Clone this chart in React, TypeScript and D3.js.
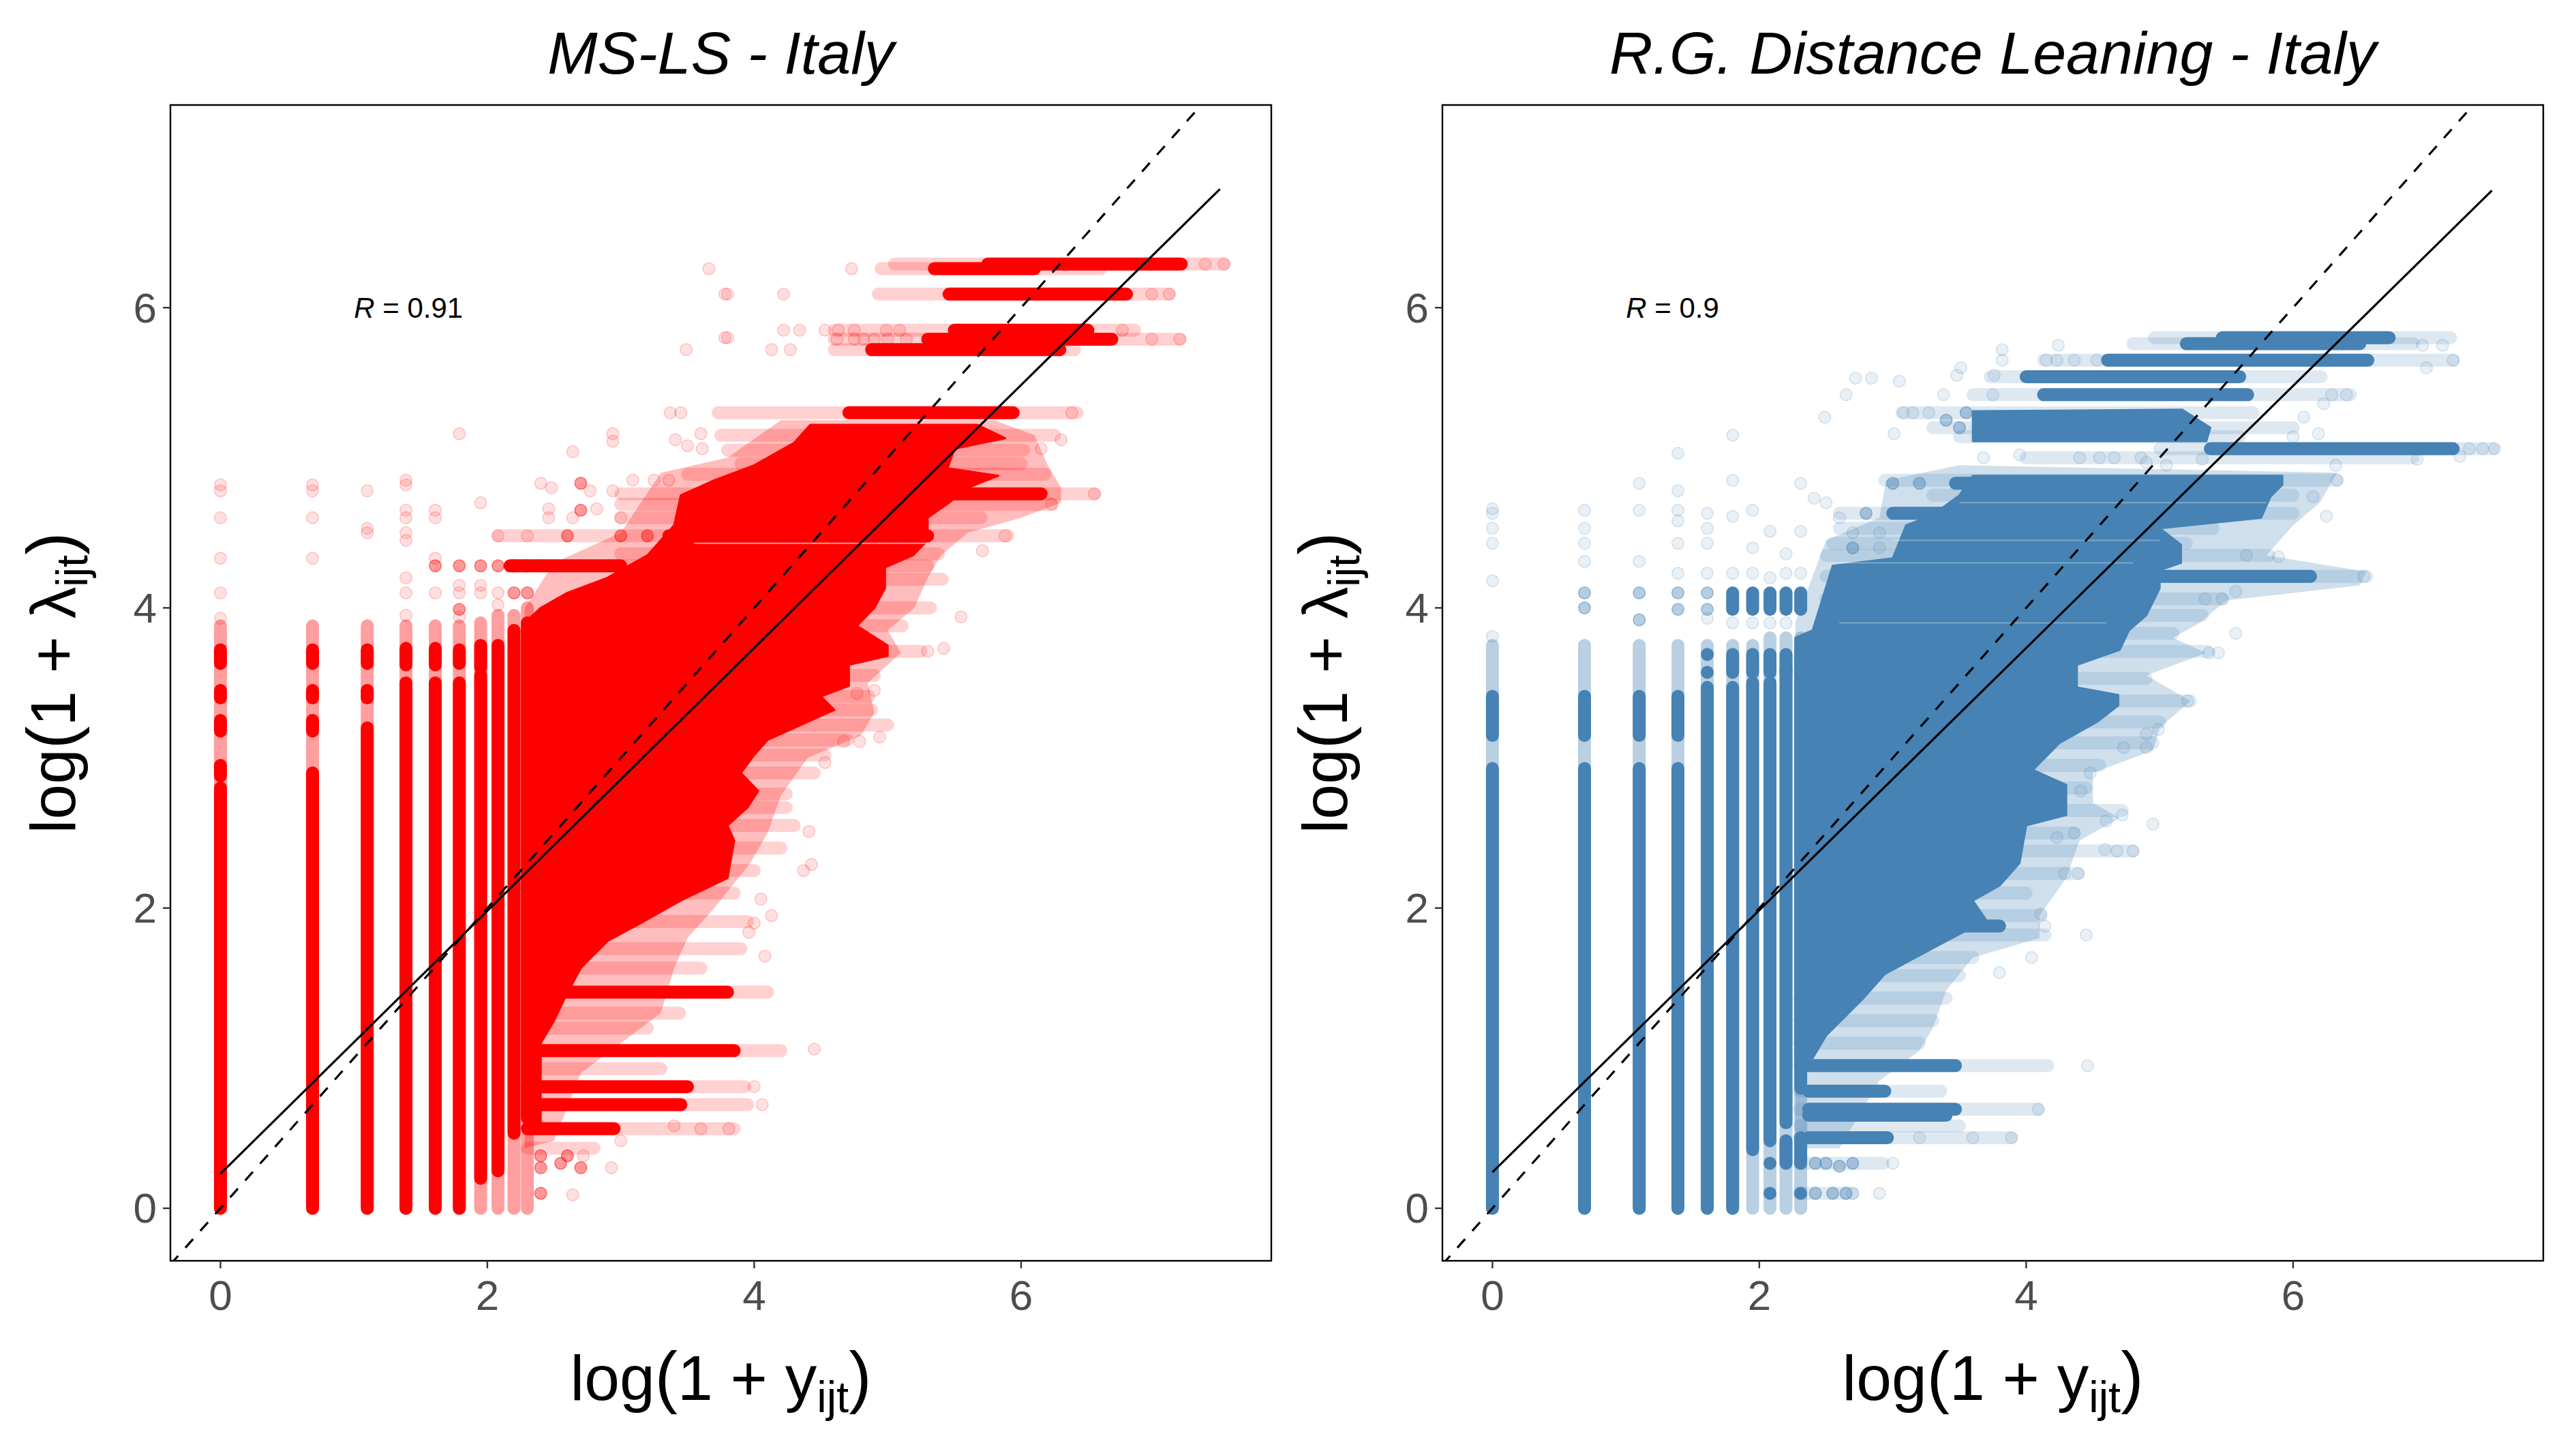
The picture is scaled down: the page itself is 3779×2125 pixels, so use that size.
import React from 'react';
import * as d3 from 'd3';

type Pt = [number, number];
type Seg = [number, number, number]; // [level, from, to]

const W = 3779;
const H = 2125;

const xTicks = [0, 2, 4, 6];
const yTicks = [0, 2, 4, 6];
const xDomain: [number, number] = [-0.375, 7.875];
const yDomain: [number, number] = [-0.35, 7.35];
const fitX = [0, 7.49];

// ---------- MS-LS panel ----------
const msColX = [0, 0.69, 1.1, 1.39, 1.61, 1.79, 1.95, 2.08, 2.2, 2.3];
const msColLo = [0, 0, 0, 0, 0, 0, 0.2, 0.25, 0.5, 0.6];
const msColHi = [2.8, 2.9, 3.2, 3.5, 3.5, 3.5, 3.55, 3.75, 3.85, 3.9];
const msColSemiHi = [3.88, 3.88, 3.88, 3.88, 3.88, 3.88, 3.9, 3.95, 3.95, 4.0];
const msColBlobs: Seg[] = [
  [0, 2.88, 2.95], [0, 3.18, 3.25], [0, 3.4, 3.45], [0, 3.63, 3.72],
  [0.69, 3.18, 3.25], [0.69, 3.4, 3.45], [0.69, 3.63, 3.72],
  [1.1, 3.4, 3.45], [1.1, 3.63, 3.72],
  [1.39, 3.62, 3.73], [1.61, 3.62, 3.73], [1.79, 3.63, 3.72], [1.95, 3.6, 3.75],
  [2.2, 4.28, 4.28], [2.3, 4.28, 4.28],
];
const msBars: Seg[] = [
  [6.29, 5.75, 7.2], [6.26, 5.35, 6.1], [6.09, 5.46, 6.79], [5.85, 5.5, 6.5],
  [5.79, 5.3, 6.68], [5.72, 4.88, 6.29], [5.3, 4.71, 5.94], [4.76, 5.4, 6.15],
  [4.28, 2.17, 3.0], [4.48, 3.36, 5.3], [1.44, 2.3, 3.8], [1.05, 2.3, 3.85],
  [0.81, 2.3, 3.5], [0.69, 2.3, 3.45], [0.53, 2.3, 2.95],
];
const msFringe: Seg[] = [
  [6.29, 5.05, 7.52], [6.26, 4.95, 6.6], [6.09, 4.93, 7.11], [5.85, 4.6, 6.85],
  [5.79, 4.6, 7.19], [5.72, 4.6, 6.4], [5.3, 3.73, 6.42], [5.15, 3.75, 6.25],
  [5.05, 3.8, 6.02], [4.96, 3.9, 6.0], [4.89, 3.5, 6.18], [4.76, 3.0, 6.55],
  [4.69, 3.0, 6.23], [4.6, 3.0, 5.7], [4.48, 2.08, 5.9], [4.36, 3.0, 5.38],
  [4.28, 2.17, 5.3], [4.19, 3.0, 5.41], [4.0, 3.0, 5.32], [3.88, 3.0, 5.11],
  [3.71, 3.0, 5.25], [3.55, 3.0, 4.9], [3.41, 3.0, 4.86], [3.32, 3.0, 4.88],
  [3.22, 3.0, 5.0], [3.12, 3.0, 4.7], [3.02, 3.0, 4.53], [2.9, 3.0, 4.45],
  [2.76, 3.0, 4.24], [2.67, 3.0, 4.24], [2.55, 3.0, 4.3], [2.4, 3.0, 4.2],
  [2.25, 3.0, 4.0], [2.1, 3.0, 3.85], [1.91, 3.0, 3.95], [1.73, 2.6, 3.9],
  [1.6, 2.5, 3.6], [1.44, 2.3, 4.1], [1.3, 2.3, 3.44], [1.2, 2.3, 3.2],
  [1.05, 2.3, 4.2], [0.93, 2.3, 3.3], [0.81, 2.3, 3.93], [0.69, 2.3, 3.95],
  [0.53, 2.3, 3.85], [0.4, 2.3, 2.8],
];
const msBody: Pt[] = [
  [2.28, 0.55], [2.28, 3.9], [2.4, 4.0], [2.6, 4.1], [2.9, 4.2], [3.2, 4.35],
  [3.4, 4.55], [3.45, 4.75], [3.7, 4.85], [4.0, 4.95], [4.3, 5.1], [4.42, 5.22],
  [5.67, 5.22], [5.88, 5.13], [5.5, 5.06], [5.45, 4.93], [5.83, 4.88], [5.6, 4.8],
  [5.46, 4.7], [5.3, 4.6], [5.3, 4.45], [5.19, 4.35], [4.98, 4.27],
  [4.98, 4.13], [4.9, 4.0], [4.77, 3.88], [5.0, 3.75], [5.0, 3.68], [4.71, 3.62],
  [4.71, 3.48], [4.5, 3.41], [4.6, 3.32], [4.35, 3.22], [4.1, 3.12], [4.0, 3.02],
  [3.9, 2.9], [4.03, 2.78], [3.95, 2.67], [3.8, 2.55], [3.85, 2.45], [3.8, 2.2],
  [3.45, 2.05], [3.15, 1.9], [2.9, 1.78], [2.7, 1.6], [2.58, 1.4], [2.5, 1.25],
  [2.4, 1.1], [2.4, 0.55],
];
const msHalo: Pt[] = [
  [2.28, 0.4], [2.28, 4.0], [2.5, 4.3], [3.0, 4.5], [3.3, 4.9], [3.8, 5.0],
  [4.2, 5.25], [5.8, 5.25], [6.1, 5.15], [6.2, 4.95], [6.3, 4.8], [6.3, 4.7],
  [6.0, 4.6], [5.6, 4.5], [5.4, 4.35], [5.3, 4.2], [5.2, 4.0], [5.0, 3.85],
  [5.1, 3.7], [4.85, 3.5], [4.9, 3.3], [4.8, 3.15], [4.4, 3.0], [4.2, 2.75],
  [4.1, 2.5], [3.97, 2.3], [3.7, 2.0], [3.5, 1.8], [3.4, 1.6], [3.3, 1.3],
  [3.0, 1.1], [2.7, 0.9], [2.5, 0.45],
];
const msSemi: Pt[] = [
  [1.61, 4.28], [1.79, 4.28], [1.79, 3.99], [1.95, 4.28], [2.08, 4.28],
  [2.2, 4.1], [2.3, 4.1], [2.7, 4.83], [2.7, 4.65], [2.4, 4.28],
  [2.6, 4.48], [3.0, 4.48], [3.2, 4.48], [2.4, 0.35], [2.4, 0.27], [2.4, 0.1],
  [2.55, 0.3], [2.6, 0.35], [2.7, 0.27],
];
const msFaint: Pt[] = [
  [0, 4.82], [0, 4.78], [0, 4.6], [0, 4.33], [0, 4.1], [0, 3.93],
  [0.69, 4.82], [0.69, 4.78], [0.69, 4.6], [0.69, 4.33],
  [1.1, 4.78], [1.1, 4.53], [1.1, 4.5],
  [1.39, 4.85], [1.39, 4.82], [1.39, 4.65], [1.39, 4.6], [1.39, 4.5], [1.39, 4.45],
  [1.39, 4.2], [1.39, 4.1], [1.39, 3.95],
  [1.61, 4.65], [1.61, 4.6], [1.61, 4.33], [1.61, 4.1],
  [1.79, 5.16], [1.79, 4.15], [1.79, 4.1], [1.79, 3.94],
  [1.95, 4.7], [1.95, 4.15], [1.95, 4.1],
  [2.08, 4.48], [2.08, 4.1], [2.08, 4.02], [2.3, 4.48],
  [2.4, 4.83], [2.48, 4.8], [2.64, 5.04], [2.94, 5.16], [2.94, 5.11], [3.37, 5.3],
  [3.49, 5.72], [3.66, 6.26], [3.78, 6.09], [3.78, 5.8], [3.41, 5.12], [3.5, 5.08],
  [3.61, 5.06], [3.45, 5.3], [3.6, 5.16], [2.64, 4.6], [2.77, 4.78], [2.94, 4.78],
  [3.0, 4.6], [2.82, 4.66], [3.09, 4.85], [3.25, 4.85], [3.36, 4.85], [2.46, 4.66],
  [2.46, 4.6], [4.73, 6.26], [3.8, 6.09], [4.22, 6.09], [3.8, 5.8], [4.13, 5.72],
  [4.27, 5.72], [4.22, 5.85], [4.34, 5.85], [4.53, 5.85], [4.63, 5.85], [4.75, 5.85],
  [4.99, 5.85], [5.09, 5.85], [4.62, 5.79], [4.75, 5.79], [4.82, 5.79], [4.9, 5.79],
  [5.0, 5.79], [5.14, 5.79], [7.52, 6.29], [7.38, 6.29], [7.11, 6.09], [6.98, 6.09],
  [7.19, 5.79], [6.98, 5.79], [6.76, 5.85], [6.38, 5.3], [6.3, 5.12], [6.15, 5.06],
  [6.55, 4.76], [6.23, 4.69], [5.88, 4.48], [5.71, 4.38], [5.55, 3.94], [5.42, 3.73],
  [5.3, 3.71], [4.77, 3.43], [4.41, 2.51], [4.43, 2.29], [4.37, 2.25], [4.05, 2.06],
  [4.13, 1.95], [4.0, 1.9], [3.96, 1.84], [4.08, 1.68], [4.45, 1.06], [4.0, 0.81],
  [4.06, 0.69], [3.81, 0.53], [4.67, 3.11], [4.9, 3.45], [4.94, 3.14], [4.79, 3.11],
  [4.53, 2.97], [2.64, 0.09], [2.93, 0.27], [2.72, 0.35], [3.0, 0.45], [3.4, 0.55],
  [3.6, 0.53],
];
const msGaps: Seg[] = [[4.43, 3.55, 5.3]];
const msFitY = [0.23, 6.79];

// ---------- R.G. Distance Leaning panel ----------
const dpColX = [0, 0.69, 1.1, 1.39, 1.61, 1.8, 1.95, 2.08, 2.2, 2.31];
const dpColLo = [0, 0, 0, 0, 0, 0, 0.39, 0.45, 0.57, 0.8];
const dpColHi = [2.93, 2.93, 2.93, 2.93, 3.47, 3.47, 3.5, 3.5, 3.6, 3.7];
const dpColSemiHi = [3.75, 3.75, 3.75, 3.75, 3.75, 3.75, 3.75, 3.8, 3.8, 3.8];
const dpColBlobs: Seg[] = [
  [0, 3.15, 3.41], [0.69, 3.15, 3.41], [1.1, 3.15, 3.41], [1.39, 3.15, 3.41],
  [1.61, 3.57, 3.57], [1.61, 3.69, 3.69], [1.8, 3.57, 3.69], [1.95, 3.57, 3.69],
  [2.08, 3.57, 3.69], [2.2, 3.57, 3.69], [2.31, 3.57, 3.69],
  [1.8, 3.99, 4.1], [1.95, 3.99, 4.1], [2.08, 3.99, 4.1], [2.2, 3.99, 4.1], [2.31, 3.99, 4.1],
  [2.08, 0.3, 0.3], [2.08, 0.1, 0.1], [2.2, 0.3, 0.45], [2.31, 0.3, 0.47], [2.31, 0.1, 0.1],
];
const dpBars: Seg[] = [
  [5.8, 5.47, 6.72], [5.76, 5.2, 6.5], [5.65, 4.61, 6.56], [5.54, 4.0, 5.6],
  [5.42, 4.13, 5.66], [5.06, 5.38, 7.2], [4.83, 3.47, 3.6], [4.63, 3.0, 3.5],
  [0.95, 2.37, 3.47], [0.78, 2.37, 2.94], [0.66, 2.37, 3.47], [0.62, 2.37, 3.4],
  [0.47, 2.37, 2.96], [1.88, 3.3, 3.8], [4.21, 5.0, 6.13],
];
const dpFringe: Seg[] = [
  [5.8, 4.96, 7.18], [5.76, 4.8, 6.9], [5.65, 4.13, 7.2], [5.54, 3.73, 6.21],
  [5.42, 3.6, 6.43], [5.3, 3.07, 5.7], [5.2, 3.3, 6.0], [5.14, 3.5, 5.6],
  [5.06, 5.0, 7.5], [5.0, 4.0, 6.9], [4.85, 2.94, 6.33], [4.75, 3.3, 6.0],
  [4.63, 2.6, 6.0], [4.53, 2.6, 5.4], [4.43, 2.55, 5.2], [4.35, 2.5, 5.82],
  [4.21, 2.5, 6.55], [4.06, 2.5, 5.47], [3.95, 2.5, 5.32], [3.83, 2.5, 5.1],
  [3.71, 2.5, 5.36], [3.53, 2.5, 4.9], [3.38, 2.5, 5.23], [3.24, 2.5, 5.0],
  [3.1, 2.5, 4.95], [2.95, 2.5, 4.55], [2.8, 2.5, 4.45], [2.65, 2.5, 4.72],
  [2.5, 2.5, 4.36], [2.38, 2.5, 4.8], [2.23, 2.5, 4.39], [2.1, 2.5, 4.0],
  [1.95, 2.5, 4.11], [1.82, 2.5, 4.14], [1.67, 2.5, 3.6], [1.55, 2.5, 3.5],
  [1.4, 2.3, 3.4], [1.25, 2.3, 3.3], [1.1, 2.3, 3.2], [0.95, 2.3, 4.16],
  [0.78, 2.3, 3.36], [0.66, 2.3, 4.09], [0.55, 2.3, 3.5], [0.47, 2.3, 3.89],
  [0.3, 2.3, 2.93], [0.1, 2.3, 2.7],
];
const dpBody: Pt[] = [
  [2.27, 1.0], [2.27, 3.8], [2.4, 3.85], [2.55, 4.28], [3.0, 4.33], [3.1, 4.55],
  [3.3, 4.62], [3.5, 4.75], [3.6, 4.88], [5.92, 4.88], [5.92, 4.82], [5.83, 4.74],
  [5.76, 4.6], [5.0, 4.53], [5.16, 4.42], [5.16, 4.3], [5.0, 4.25], [5.0, 4.13],
  [4.9, 3.95], [4.77, 3.85], [4.7, 3.72], [4.38, 3.62], [4.38, 3.47], [4.69, 3.42],
  [4.69, 3.35], [4.53, 3.24], [4.25, 3.1], [4.05, 2.92], [4.3, 2.82], [4.3, 2.62],
  [4.0, 2.55], [3.95, 2.3], [3.8, 2.15], [3.6, 2.05], [3.7, 1.92], [3.4, 1.78],
  [2.94, 1.56], [2.77, 1.39], [2.5, 1.15], [2.4, 1.0],
];
const dpBlock: Pt[] = [[3.6, 5.11], [3.6, 5.31], [5.17, 5.32], [5.38, 5.2], [5.35, 5.11]];
const dpHalo: Pt[] = [
  [2.27, 0.4], [2.27, 3.9], [2.5, 4.45], [2.9, 4.6], [2.95, 4.85], [3.5, 4.95],
  [6.33, 4.9], [6.2, 4.7], [6.0, 4.55], [5.8, 4.35], [6.55, 4.24], [6.5, 4.15],
  [5.5, 4.05], [5.3, 3.9], [5.1, 3.8], [5.35, 3.7], [4.9, 3.55], [5.23, 3.38],
  [5.0, 3.2], [4.95, 3.05], [4.5, 2.9], [4.5, 2.7], [4.7, 2.6], [4.4, 2.45],
  [4.3, 2.2], [4.1, 1.95], [4.1, 1.8], [3.6, 1.67], [3.4, 1.45], [3.3, 1.2],
  [3.2, 1.05], [2.9, 0.85], [2.6, 0.4],
];
const dpSemi: Pt[] = [
  [2.42, 0.3], [2.5, 0.3], [2.6, 0.28], [2.42, 0.1], [2.55, 0.1], [2.65, 0.1],
  [2.7, 0.3], [3.0, 4.83], [3.2, 4.83], [2.8, 4.63], [2.7, 4.4], [3.4, 5.25],
  [3.5, 5.2], [3.55, 5.3], [0.69, 4.1], [0.69, 4.0], [1.1, 4.1], [1.1, 3.92],
  [1.39, 4.1], [1.39, 3.99], [1.61, 4.1], [1.61, 3.99],
];
const dpFaint: Pt[] = [
  [0, 4.66], [0, 4.63], [0, 4.53], [0, 4.43], [0, 4.18], [0, 3.81],
  [0.69, 4.65], [0.69, 4.53], [0.69, 4.43], [0.69, 4.31],
  [1.1, 4.83], [1.1, 4.65], [1.1, 4.31],
  [1.39, 5.03], [1.39, 4.78], [1.39, 4.65], [1.39, 4.58], [1.39, 4.43], [1.39, 4.23],
  [1.61, 4.63], [1.61, 4.53], [1.61, 4.43], [1.61, 4.23], [1.61, 3.93],
  [1.8, 5.15], [1.8, 4.85], [1.8, 4.61], [1.8, 4.23], [1.8, 3.9],
  [1.95, 4.65], [1.95, 4.4], [1.95, 4.23], [1.95, 3.9],
  [2.08, 4.51], [2.08, 4.2], [2.08, 3.9], [2.2, 4.36], [2.2, 4.23], [2.2, 3.9],
  [2.31, 4.83], [2.31, 4.51], [2.31, 4.23],
  [2.41, 4.73], [2.49, 5.27], [2.65, 5.42], [2.72, 5.53], [2.84, 5.53], [3.05, 5.51],
  [3.01, 5.16], [3.38, 5.42], [3.48, 5.55], [3.51, 5.6], [3.08, 5.3], [3.15, 5.3],
  [3.27, 5.3], [3.68, 5.0], [3.75, 5.42], [3.76, 5.55], [2.5, 4.7], [2.6, 4.6],
  [2.7, 4.5], [2.9, 4.5], [2.9, 4.4], [3.82, 5.72], [3.82, 5.65], [4.24, 5.75],
  [4.15, 5.65], [4.23, 5.65], [4.36, 5.65], [4.53, 5.65], [7.12, 5.75], [7.2, 5.65],
  [7.0, 5.6], [6.97, 5.75], [7.32, 5.06], [7.42, 5.06], [7.51, 5.06], [7.25, 5.01],
  [6.4, 5.42], [6.29, 5.42], [6.23, 5.36], [6.08, 5.27], [6.19, 5.16], [6.0, 5.14],
  [6.32, 4.95], [6.93, 4.99], [6.25, 4.61], [6.15, 4.74], [6.33, 4.85], [6.53, 4.21],
  [5.57, 3.83], [5.37, 3.7], [5.44, 3.7], [5.34, 4.06], [5.47, 4.06], [5.57, 4.11],
  [5.89, 4.34], [5.65, 4.35], [5.32, 4.99], [5.05, 4.95], [4.86, 5.0], [4.9, 4.97],
  [4.4, 5.0], [4.55, 5.0], [4.66, 5.0], [3.95, 5.02], [5.21, 3.38], [4.99, 3.19],
  [4.9, 3.07], [4.95, 2.56], [4.8, 2.38], [4.68, 2.38], [4.59, 2.39], [4.39, 2.23],
  [4.29, 2.23], [4.45, 1.82], [4.14, 1.88], [4.11, 1.96], [4.04, 1.67], [3.8, 1.57],
  [4.46, 0.95], [4.09, 0.66], [3.89, 0.47], [4.36, 2.5], [4.23, 2.47], [4.72, 2.62],
  [4.6, 2.58], [4.48, 2.9], [4.41, 2.78], [4.9, 3.16], [4.73, 3.07], [3.0, 0.3],
  [2.7, 0.1], [2.9, 0.1], [3.2, 0.47], [3.6, 0.47],
];
const dpGaps: Seg[] = [[4.7, 3.5, 5.8], [4.45, 3.0, 5.0], [4.3, 2.6, 4.8], [3.9, 2.6, 4.6]];
const dpFitY = [0.24, 6.78];

interface PanelProps {
  left: number;
  title: string;
  label: string;
  color: string;
  colX: number[];
  colLo: number[];
  colHi: number[];
  colSemiHi: number[];
  colBlobs: Seg[];
  bars: Seg[];
  fringe: Seg[];
  body: Pt[];
  halo: Pt[];
  block?: Pt[];
  semi: Pt[];
  faint: Pt[];
  gaps: Seg[];
  gapOpacity: number;
  fitY: number[];
}

const TOP = 154;
const BOTTOM = 1849;
const PW = 1615;
const R = 9.5;
const FONT = '"Liberation Sans", Arial, Helvetica, sans-serif';

const Panel: React.FC<PanelProps> = (p) => {
  const x = d3.scaleLinear().domain(xDomain).range([p.left, p.left + PW]);
  const y = d3.scaleLinear().domain(yDomain).range([BOTTOM, TOP]);
  const poly = d3.line<Pt>().x(d => x(d[0])).y(d => y(d[1])).curve(d3.curveLinearClosed);
  const clipId = `clip-${Math.round(p.left)}`;
  const cx = p.left + PW / 2;

  return (
    <g>
      <defs>
        <clipPath id={clipId}>
          <rect x={p.left} y={TOP} width={PW} height={BOTTOM - TOP} />
        </clipPath>
      </defs>
      <g clipPath={`url(#${clipId})`}>
        {p.fringe.map((s, i) => (
          <line key={`f${i}`} x1={x(s[1])} x2={x(s[2])} y1={y(s[0])} y2={y(s[0])}
            stroke={p.color} strokeOpacity={0.18} strokeWidth={2 * R} strokeLinecap="round" />
        ))}
        <path d={poly(p.halo) || undefined} fill={p.color} fillOpacity={0.26} />
        {p.faint.map((d, i) => (
          <circle key={`d${i}`} cx={x(d[0])} cy={y(d[1])} r={R - 0.75} fill={p.color}
            fillOpacity={0.12} stroke={p.color} strokeOpacity={0.2} strokeWidth={1.5} />
        ))}
        {p.colX.map((cxv, i) => (
          <line key={`cs${i}`} x1={x(cxv)} x2={x(cxv)} y1={y(0)} y2={y(p.colSemiHi[i])}
            stroke={p.color} strokeOpacity={0.38} strokeWidth={2 * R} strokeLinecap="round" />
        ))}
        <path d={poly(p.body) || undefined} fill={p.color} stroke={p.color} strokeWidth={3} strokeLinejoin="round" />
        {p.block && <path d={poly(p.block) || undefined} fill={p.color} stroke={p.color} strokeWidth={3} strokeLinejoin="round" />}
        {p.bars.map((s, i) => (
          <line key={`b${i}`} x1={x(s[1])} x2={x(s[2])} y1={y(s[0])} y2={y(s[0])}
            stroke={p.color} strokeWidth={2 * R} strokeLinecap="round" />
        ))}
        {p.gaps.map((s, i) => (
          <line key={`g${i}`} x1={x(s[1])} x2={x(s[2])} y1={y(s[0])} y2={y(s[0])}
            stroke="#fff" strokeOpacity={p.gapOpacity} strokeWidth={2} />
        ))}
        {p.colX.map((cxv, i) => (
          <line key={`c${i}`} x1={x(cxv)} x2={x(cxv)} y1={y(p.colLo[i])} y2={y(p.colHi[i])}
            stroke={p.color} strokeWidth={2 * R} strokeLinecap="round" />
        ))}
        {p.colBlobs.map((s, i) => (
          <line key={`cb${i}`} x1={x(s[0])} x2={x(s[0])} y1={y(s[1])} y2={y(s[2])}
            stroke={p.color} strokeWidth={2 * R} strokeLinecap="round" />
        ))}
        {p.semi.map((d, i) => (
          <circle key={`s${i}`} cx={x(d[0])} cy={y(d[1])} r={R - 0.75} fill={p.color}
            fillOpacity={0.4} stroke={p.color} strokeOpacity={0.5} strokeWidth={1.5} />
        ))}
        <line x1={x(xDomain[0])} y1={y(xDomain[0])} x2={x(xDomain[1])} y2={y(xDomain[1])}
          stroke="#000" strokeWidth={3.2} strokeDasharray="17 16" />
        <line x1={x(fitX[0])} y1={y(p.fitY[0])} x2={x(fitX[1])} y2={y(p.fitY[1])}
          stroke="#000" strokeWidth={3.2} />
      </g>
      <rect x={p.left} y={TOP} width={PW} height={BOTTOM - TOP} fill="none" stroke="#000" strokeWidth={2.4} />

      <text x={x(1)} y={y(6)} dominantBaseline="central" fontFamily={FONT} fontSize={42} fill="#000">
        <tspan fontStyle="italic">R</tspan>
        <tspan> = {p.label}</tspan>
      </text>

      {xTicks.map(t => (
        <g key={`xt${t}`}>
          <line x1={x(t)} x2={x(t)} y1={BOTTOM} y2={BOTTOM + 11} stroke="#333" strokeWidth={2.4} />
          <text x={x(t)} y={1921} textAnchor="middle" fontFamily={FONT} fontSize={62} fill="#4D4D4D">{t}</text>
        </g>
      ))}
      {yTicks.map(t => (
        <g key={`yt${t}`}>
          <line x1={p.left - 11} x2={p.left} y1={y(t)} y2={y(t)} stroke="#333" strokeWidth={2.4} />
          <text x={p.left - 20} y={y(t)} textAnchor="end" dominantBaseline="central"
            fontFamily={FONT} fontSize={62} fill="#4D4D4D">{t}</text>
        </g>
      ))}

      <text x={cx} y={108} textAnchor="middle" fontFamily={FONT} fontStyle="italic" fontSize={88} fill="#000">
        {p.title}
      </text>

      <text x={cx} y={2053} textAnchor="middle" fontFamily={FONT} fontSize={93} fill="#000">
        log<tspan fontSize={100}>(</tspan>1 + y<tspan fontSize={65} dy={18}>ijt</tspan>
        <tspan fontSize={100} dy={-18}>)</tspan>
      </text>

      <text transform={`translate(${p.left - 140},${(TOP + BOTTOM) / 2}) rotate(-90)`} textAnchor="middle"
        fontFamily={FONT} fontSize={93} fill="#000">
        log<tspan fontSize={100}>(</tspan>1 + λ<tspan fontSize={65} dy={18}>ijt</tspan>
        <tspan fontSize={100} dy={-18}>)</tspan>
      </text>
    </g>
  );
};

const App: React.FC = () => (
  <div style={{ position: 'absolute', left: 0, top: 0 }}>
    <svg width={W} height={H} style={{ display: 'block', background: '#fff' }}>
      <rect width={W} height={H} fill="#fff" />
      <Panel left={250} title="MS-LS - Italy" label="0.91" color="#FF0000"
        colX={msColX} colLo={msColLo} colHi={msColHi} colSemiHi={msColSemiHi} colBlobs={msColBlobs}
        bars={msBars} fringe={msFringe} body={msBody} halo={msHalo}
        semi={msSemi} faint={msFaint} gaps={msGaps} gapOpacity={0.6} fitY={msFitY} />
      <Panel left={2116} title="R.G. Distance Leaning - Italy" label="0.9" color="#4682B4"
        colX={dpColX} colLo={dpColLo} colHi={dpColHi} colSemiHi={dpColSemiHi} colBlobs={dpColBlobs}
        bars={dpBars} fringe={dpFringe} body={dpBody} halo={dpHalo} block={dpBlock}
        semi={dpSemi} faint={dpFaint} gaps={dpGaps} gapOpacity={0.3} fitY={dpFitY} />
    </svg>
  </div>
);

export default App;
